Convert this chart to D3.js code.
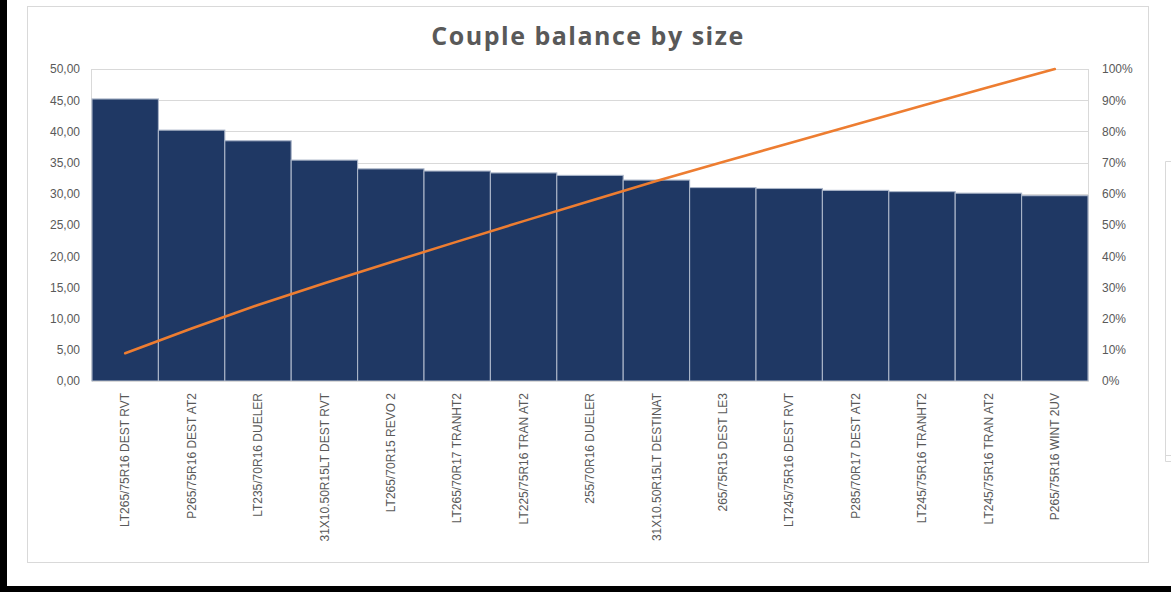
<!DOCTYPE html>
<html>
<head>
<meta charset="utf-8">
<script src="https://cdn.jsdelivr.net/npm/d3@7"></script>
<style>
  html, body { margin: 0; padding: 0; background: #ffffff; }
  svg { display: block; }
</style>
</head>
<body>
<svg id="chart" width="1171" height="592"></svg>
<script>
// Tire sizes, sorted by couple balance (descending)
const sizes = [
  "LT265/75R16 DEST RVT",
  "P265/75R16 DEST AT2",
  "LT235/70R16 DUELER",
  "31X10.50R15LT DEST RVT",
  "LT265/70R15 REVO 2",
  "LT265/70R17 TRANHT2",
  "LT225/75R16 TRAN AT2",
  "255/70R16 DUELER",
  "31X10.50R15LT DESTINAT",
  "265/75R15 DEST LE3",
  "LT245/75R16 DEST RVT",
  "P285/70R17 DEST AT2",
  "LT245/75R16 TRANHT2",
  "LT245/75R16 TRAN AT2",
  "P265/75R16 WINT 2UV"
];

// Couple balance per size (left axis)
const balance = [45.2, 40.2, 38.5, 35.4, 34.0, 33.65, 33.35, 32.95, 32.2, 31.0, 30.85, 30.55, 30.35, 30.1, 29.7];

// Cumulative share of the total, in percent (right axis)
const cumulativePct = [8.90, 16.81, 24.39, 31.36, 38.05, 44.67, 51.24, 57.73, 64.07, 70.17, 76.24, 82.25, 88.23, 94.15, 100];

// Axis ticks
const leftTicks = [0, 5, 10, 15, 20, 25, 30, 35, 40, 45, 50];
const rightTicks = [0, 10, 20, 30, 40, 50, 60, 70, 80, 90, 100];

const title = "Couple balance by size";

const svg = d3.select("#chart");
const W = 1171, H = 592;

// Outer dark frame (left and bottom strips)
svg.append("rect").attr("x", 0).attr("y", 0).attr("width", W).attr("height", H).attr("fill", "#ffffff");
svg.append("rect").attr("x", 0).attr("y", 0).attr("width", 7).attr("height", H).attr("fill", "#000000");
svg.append("rect").attr("x", 0).attr("y", 586).attr("width", W).attr("height", H - 586).attr("fill", "#000000");

// Chart container border
svg.append("rect")
  .attr("x", 27.5).attr("y", 6.5).attr("width", 1121).attr("height", 556)
  .attr("fill", "#ffffff").attr("stroke", "#d9d9d9").attr("stroke-width", 1);

// Partial neighbouring panel on the right edge
svg.append("path")
  .attr("d", "M1171,161.5 H1165.5 V461.5 H1171 M1165.5,455.5 H1171")
  .attr("fill", "none").attr("stroke", "#d9d9d9").attr("stroke-width", 1);

// Plot area
const plot = { left: 92, right: 1088, top: 69, bottom: 381 };

const x = d3.scaleBand()
  .domain(sizes)
  .range([plot.left, plot.right])
  .paddingInner(0)
  .paddingOuter(0);

const yLeft = d3.scaleLinear().domain([0, 50]).range([plot.bottom, plot.top]);
const yRight = d3.scaleLinear().domain([0, 100]).range([plot.bottom, plot.top]);

const textColor = "#595959";
const gridColor = "#d9d9d9";

// Horizontal gridlines
svg.append("g")
  .selectAll("line")
  .data(leftTicks)
  .join("line")
  .attr("x1", plot.left).attr("x2", plot.right)
  .attr("y1", d => Math.round(yLeft(d)) + 0.5)
  .attr("y2", d => Math.round(yLeft(d)) + 0.5)
  .attr("stroke", gridColor).attr("stroke-width", 1);

// Plot area side borders
svg.append("line")
  .attr("x1", plot.left - 0.5).attr("x2", plot.left - 0.5)
  .attr("y1", plot.top).attr("y2", plot.bottom)
  .attr("stroke", gridColor);
svg.append("line")
  .attr("x1", plot.right + 0.5).attr("x2", plot.right + 0.5)
  .attr("y1", plot.top).attr("y2", plot.bottom)
  .attr("stroke", gridColor);

// Bars
svg.append("g")
  .selectAll("rect")
  .data(sizes.map((s, i) => ({ size: s, value: balance[i] })))
  .join("rect")
  .attr("x", d => x(d.size))
  .attr("y", d => yLeft(d.value))
  .attr("width", x.bandwidth())
  .attr("height", d => yLeft(0) - yLeft(d.value))
  .attr("fill", "#1f3864")
  .attr("stroke", "#aab5c8")
  .attr("stroke-width", 1.1);

// Cumulative percentage line
const line = d3.line()
  .x((d, i) => x(sizes[i]) + x.bandwidth() / 2)
  .y(d => yRight(d));

svg.append("path")
  .datum(cumulativePct)
  .attr("d", line)
  .attr("fill", "none")
  .attr("stroke", "#ed7d31")
  .attr("stroke-width", 2.6)
  .attr("stroke-linecap", "round")
  .attr("stroke-linejoin", "round");

// Left axis
const fmtLeft = v => d3.format(".2f")(v).replace(".", ",");
const leftAxis = d3.axisLeft(yLeft).tickValues(leftTicks).tickFormat(fmtLeft).tickSize(0).tickPadding(12);
const gL = svg.append("g").attr("transform", `translate(${plot.left},0)`).call(leftAxis);
gL.select(".domain").remove();
gL.selectAll("text")
  .attr("fill", textColor)
  .style("font-family", "'Liberation Sans', Arial, sans-serif")
  .style("font-size", "12px");

// Right axis
const rightAxis = d3.axisRight(yRight).tickValues(rightTicks).tickFormat(d => d + "%").tickSize(0).tickPadding(14);
const gR = svg.append("g").attr("transform", `translate(${plot.right},0)`).call(rightAxis);
gR.select(".domain").remove();
gR.selectAll("text")
  .attr("fill", textColor)
  .style("font-family", "'Liberation Sans', Arial, sans-serif")
  .style("font-size", "12px");

// Category axis with rotated labels
const bottomAxis = d3.axisBottom(x).tickSize(0).tickPadding(0);
const gB = svg.append("g").attr("transform", `translate(0,${plot.bottom})`).call(bottomAxis);
gB.select(".domain").attr("stroke", gridColor);
gB.selectAll("text")
  .attr("fill", textColor)
  .style("font-family", "'Liberation Sans', Arial, sans-serif")
  .style("font-size", "12px")
  .attr("text-anchor", "end")
  .attr("dy", "0.35em")
  .attr("transform", "translate(0,12) rotate(-90)")
  .attr("x", 0)
  .attr("y", 0);

// Title
svg.append("text")
  .attr("x", 588)
  .attr("y", 45)
  .attr("text-anchor", "middle")
  .attr("fill", textColor)
  .style("font-family", "'Open Sans', 'Liberation Sans', sans-serif")
  .style("font-weight", "bold")
  .style("font-size", "25px")
  .style("letter-spacing", "1.5px")
  .text(title);
</script>
</body>
</html>
